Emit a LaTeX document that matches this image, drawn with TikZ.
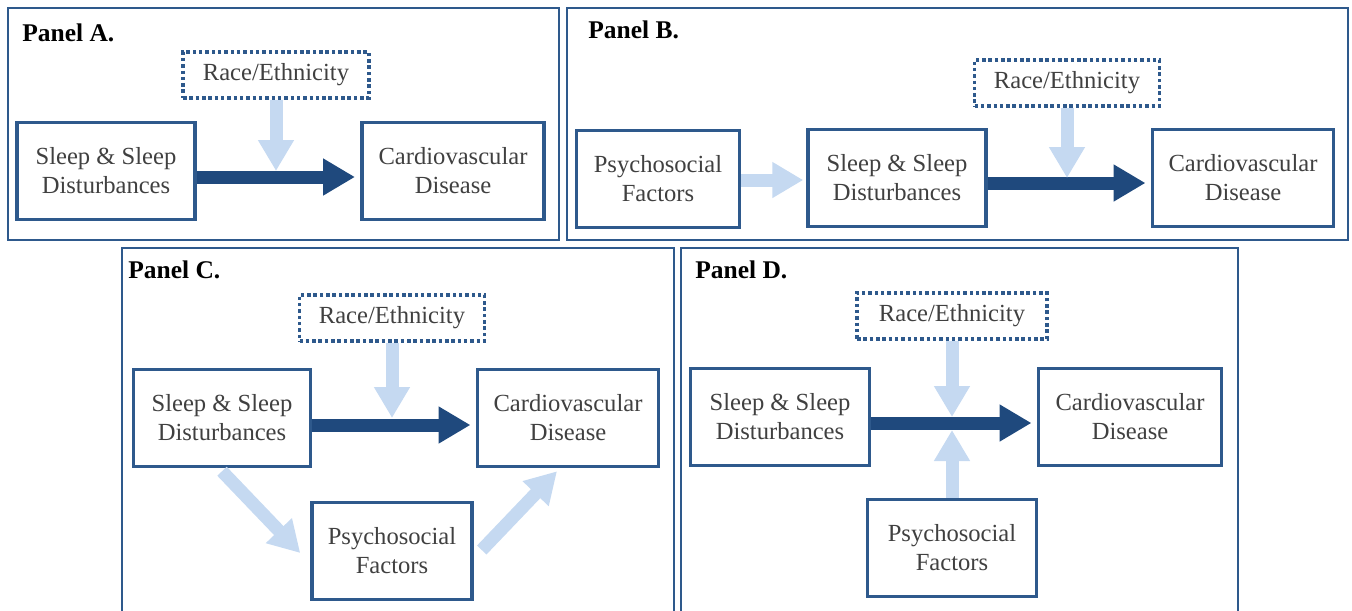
\documentclass[tikz,border=0pt]{standalone}
\usepackage{fontspec}
\setmainfont{Liberation Serif}
\usetikzlibrary{arrows.meta,calc}
\definecolor{boxblue}{RGB}{46,89,140}
\definecolor{darkarrow}{RGB}{31,73,125}
\definecolor{lightarrow}{RGB}{197,217,241}
\definecolor{textgray}{RGB}{64,64,64}
\tikzset{
  panel/.style={draw=boxblue, line width=1.6pt},
  paneltitle/.style={anchor=west, inner sep=0pt, font=\fontsize{14.5}{16}\selectfont\bfseries},
  varbox/.style={draw=boxblue, line width=2pt, text=textgray, align=center,
    minimum width=#1, minimum height=1.94cm, inner sep=2pt,
    font=\fontsize{14}{16.5}\selectfont},
  varbox/.default=3.56cm,
  modbox/.style={draw=boxblue, line width=2pt, dash pattern=on 2pt off 1.6pt,
    text=textgray, minimum width=#1, minimum height=0.92cm,
    font=\fontsize{14}{16.5}\selectfont},
  modbox/.default=3.72cm,
  mainarrow/.style={draw=darkarrow, line width=0.26cm,
    -{Triangle[width=0.7cm,length=0.64cm]}, shorten >=3pt},
  sidearrow/.style={draw=lightarrow, line width=0.26cm,
    -{Triangle[width=0.68cm,length=0.62cm]}},
}

\begin{document}
\begin{tikzpicture}[x=0.02cm, y=-0.02cm]
    \useasboundingbox (0,0) rectangle (1352,610);

    % 面板 A
    \draw[panel] (8,8) rectangle (559,240);
    \node[paneltitle] (titleA) at (22,33) {Panel A.};
    \node[modbox] (raceA) at (276,75) {Race/Ethnicity};
    \node[varbox] (sleepA) at (106,171) {Sleep \& Sleep\\Disturbances};
    \node[varbox=3.64cm] (cardioA) at (453,171) {Cardiovascular\\Disease};
    \draw[mainarrow] ($(sleepA.east)+(0,6)$) -- ($(cardioA.west)+(0,6)$);
    \draw[sidearrow] (raceA.south) -- (raceA.south |- sleepA.east);

    % 面板 B
    \draw[panel] (567,8) rectangle (1348,240);
    \node[paneltitle] (titleB) at (588,30) {Panel B.};
    \node[modbox=3.7cm] (raceB) at (1067,83) {Race/Ethnicity};
    \node[varbox=3.26cm] (psychB) at (658,179) {Psychosocial\\Factors};
    \node[varbox] (sleepB) at (897,178) {Sleep \& Sleep\\Disturbances};
    \node[varbox=3.62cm] (cardioB) at (1243,178) {Cardiovascular\\Disease};
    \draw[sidearrow] ($(psychB.east)+(0,1)$) -- ($(sleepB.west)+(-3,2)$);
    \draw[mainarrow] ($(sleepB.east)+(0,5)$) -- ($(cardioB.west)+(0,5)$);
    \draw[sidearrow] (raceB.south) -- (raceB.south |- sleepB.east);

    % 面板 C
    \draw[panel] (122,248) rectangle (674,620);
    \node[paneltitle] (titleC) at (128,270) {Panel C.};
    \node[modbox=3.7cm] (raceC) at (392,318) {Race/Ethnicity};
    \node[varbox=3.54cm] (sleepC) at (222,418) {Sleep \& Sleep\\Disturbances};
    \node[varbox=3.62cm] (cardioC) at (568,418) {Cardiovascular\\Disease};
    \node[varbox=3.2cm] (psychC) at (392,551) {Psychosocial\\Factors};
    \draw[mainarrow] ($(sleepC.east)+(0,7)$) -- ($(cardioC.west)+(0,7)$);
    \draw[sidearrow] (raceC.south) -- (raceC.south |- sleepC.east);
    \draw[sidearrow] ($(sleepC.south)+(0,3)$) -- ($(psychC.west)+(-10,2)$);
    \draw[sidearrow] ($(psychC.east)+(8,-1)$) -- ($(cardioC.south)+(-11,3)$);

    % 面板 D
    \draw[panel] (681,248) rectangle (1238,620);
    \node[paneltitle] (titleD) at (695,270) {Panel D.};
    \node[modbox=3.8cm] (raceD) at (952,316) {Race/Ethnicity};
    \node[varbox=3.58cm] (sleepD) at (780,417) {Sleep \& Sleep\\Disturbances};
    \node[varbox=3.66cm] (cardioD) at (1130,417) {Cardiovascular\\Disease};
    \node[varbox=3.38cm] (psychD) at (952,548) {Psychosocial\\Factors};
    \draw[mainarrow] ($(sleepD.east)+(0,6)$) -- ($(cardioD.west)+(0,6)$);
    \draw[sidearrow] (raceD.south) -- (raceD.south |- sleepD.east);
    \draw[sidearrow] (psychD.north) -- ($(psychD.north |- sleepD.east)+(0,13)$);
\end{tikzpicture}
\end{document}
